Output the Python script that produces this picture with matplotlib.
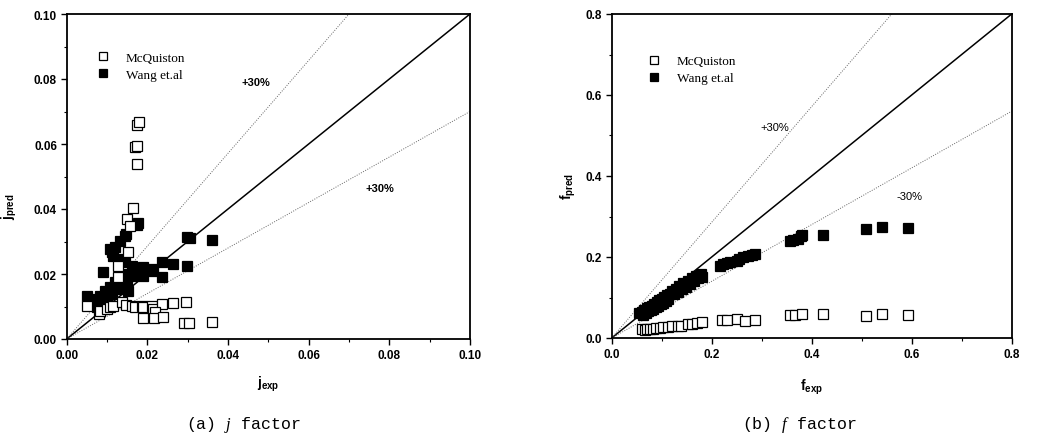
import matplotlib
matplotlib.use("Agg")
import matplotlib.pyplot as plt
import numpy as np
from matplotlib.ticker import MultipleLocator

plt.rcParams['mathtext.fontset'] = 'custom'
plt.rcParams['mathtext.it'] = 'Liberation Serif:italic'
plt.rcParams['mathtext.rm'] = 'Liberation Sans'
plt.rcParams['mathtext.bf'] = 'Liberation Sans:bold'

# ---------------- data: (a) j factor ----------------
j_mcq_exp = [0.0050, 0.0079, 0.0083, 0.0099, 0.0107, 0.0116, 0.0136, 0.0147, 0.0161, 0.0169,
             0.0186, 0.0190, 0.0211, 0.0215, 0.0236, 0.0263, 0.0295, 0.0190, 0.0219, 0.0217,
             0.0240, 0.0292, 0.0304, 0.0360, 0.0153, 0.0128, 0.0149, 0.0157, 0.0164, 0.0174,
             0.0169, 0.0174, 0.0175, 0.0180, 0.0128]
j_mcq_pred = [0.0102, 0.0077, 0.0087, 0.0092, 0.0097, 0.0103, 0.0113, 0.0105, 0.0102, 0.0100,
              0.0102, 0.0100, 0.0102, 0.0092, 0.0108, 0.0110, 0.0113, 0.0065, 0.0082, 0.0064,
              0.0067, 0.0049, 0.0049, 0.0051, 0.0267, 0.0226, 0.0369, 0.0349, 0.0402, 0.0538,
              0.0592, 0.0595, 0.0660, 0.0668, 0.0190]

j_wang_exp = [0.0050, 0.0091, 0.0066, 0.0074, 0.0083, 0.0091, 0.0074, 0.0083, 0.0099, 0.0095,
              0.0107, 0.0112, 0.0124, 0.0120, 0.0136, 0.0132, 0.0149, 0.0145, 0.0161, 0.0165,
              0.0153, 0.0174, 0.0190, 0.0190, 0.0215, 0.0211, 0.0237, 0.0237, 0.0263, 0.0298,
              0.0298, 0.0306, 0.0360, 0.0161, 0.0145, 0.0132, 0.0116, 0.0107, 0.0112, 0.0120,
              0.0132, 0.0145, 0.0147, 0.0174, 0.0178]
j_wang_pred = [0.0133, 0.0205, 0.0108, 0.0097, 0.0087, 0.0103, 0.0123, 0.0133, 0.0123, 0.0149,
               0.0159, 0.0138, 0.0154, 0.0174, 0.0164, 0.0185, 0.0179, 0.0200, 0.0195, 0.0207,
               0.0149, 0.0215, 0.0221, 0.0195, 0.0215, 0.0210, 0.0236, 0.0190, 0.0231, 0.0226,
               0.0313, 0.0310, 0.0306, 0.0226, 0.0236, 0.0246, 0.0256, 0.0277, 0.0267, 0.0282,
               0.0303, 0.0318, 0.0323, 0.0352, 0.0356]

# ---------------- data: (b) f factor ----------------
f_wang_exp = [0.055, 0.060, 0.062, 0.065, 0.068, 0.070, 0.073, 0.075, 0.078, 0.080,
              0.083, 0.085, 0.088, 0.090, 0.093, 0.095, 0.098, 0.100, 0.103, 0.105,
              0.108, 0.110, 0.113, 0.117, 0.120, 0.125, 0.128, 0.132, 0.135, 0.140,
              0.143, 0.148, 0.152, 0.157, 0.160, 0.165, 0.168, 0.173, 0.178, 0.180,
              0.217, 0.223, 0.230, 0.237, 0.250, 0.255, 0.263, 0.273, 0.280, 0.287,
              0.357, 0.363, 0.373, 0.378, 0.380, 0.422, 0.508, 0.540, 0.593]
f_wang_pred = [0.062, 0.065, 0.058, 0.070, 0.062, 0.073, 0.066, 0.077, 0.069, 0.080,
               0.072, 0.085, 0.076, 0.089, 0.079, 0.093, 0.084, 0.097, 0.087, 0.101,
               0.092, 0.106, 0.096, 0.109, 0.115, 0.109, 0.121, 0.114, 0.128, 0.121,
               0.135, 0.127, 0.141, 0.134, 0.148, 0.141, 0.153, 0.147, 0.157, 0.151,
               0.179, 0.183, 0.186, 0.187, 0.191, 0.195, 0.199, 0.203, 0.205, 0.207,
               0.240, 0.243, 0.244, 0.251, 0.255, 0.255, 0.269, 0.275, 0.271]

f_mcq_exp = [0.060, 0.066, 0.070, 0.076, 0.083, 0.089, 0.097, 0.102, 0.113, 0.121,
             0.133, 0.139, 0.153, 0.161, 0.170, 0.180, 0.220, 0.230, 0.251, 0.267,
             0.287, 0.357, 0.367, 0.381, 0.422, 0.508, 0.540, 0.593]
f_mcq_pred = [0.021, 0.020, 0.022, 0.022, 0.022, 0.024, 0.024, 0.027, 0.026, 0.029,
              0.030, 0.030, 0.035, 0.035, 0.037, 0.039, 0.044, 0.044, 0.047, 0.043,
              0.045, 0.057, 0.057, 0.059, 0.059, 0.055, 0.059, 0.057]

series_names = ["McQuiston", "Wang et.al"]

W, H = 1037, 439
fig = plt.figure(figsize=(W / 100, H / 100), dpi=100)

ax1 = fig.add_axes([66.7 / W, (H - 340) / H, 403.3 / W, 325 / H])
ax2 = fig.add_axes([611.7 / W, (H - 339) / H, 400 / W, 324 / H])

ms = 7.3
mew = 0.9


def style(ax, lim, major, minor, fmt):
    ax.set_xlim(0, lim)
    ax.set_ylim(0, lim)
    ax.xaxis.set_major_locator(MultipleLocator(major))
    ax.yaxis.set_major_locator(MultipleLocator(major))
    ax.xaxis.set_minor_locator(MultipleLocator(minor))
    ax.yaxis.set_minor_locator(MultipleLocator(minor))
    ax.xaxis.set_major_formatter(plt.FormatStrFormatter(fmt))
    ax.yaxis.set_major_formatter(plt.FormatStrFormatter(fmt))
    ax.tick_params(which='major', direction='out', length=4, width=1.0, pad=3,
                   labelsize=8.5)
    ax.tick_params(which='minor', direction='out', length=2, width=0.8)
    for lab in ax.get_xticklabels() + ax.get_yticklabels():
        lab.set_fontweight('bold')
        lab.set_family('Liberation Sans')
    for s in ax.spines.values():
        s.set_linewidth(1.3)


def draw(ax, lim, mcq_x, mcq_y, wang_x, wang_y):
    xx = np.array([0, lim])
    ax.plot(xx, xx, color='black', lw=1.1, zorder=1)
    ax.plot(xx, xx / 0.7, color='#666666', lw=0.7, ls=(0, (1, 1.5)), zorder=1)
    ax.plot(xx, xx * 0.7, color='#666666', lw=0.7, ls=(0, (1, 1.5)), zorder=1)
    ax.plot(wang_x, wang_y, ls='none', marker='s', ms=ms, mfc='black', mec='black',
            mew=mew, zorder=3, label=series_names[1])
    ax.plot(mcq_x, mcq_y, ls='none', marker='s', ms=ms, mfc='white', mec='black',
            mew=mew, zorder=4, label=series_names[0])


draw(ax1, 0.10, j_mcq_exp, j_mcq_pred, j_wang_exp, j_wang_pred)
draw(ax2, 0.8, f_mcq_exp, f_mcq_pred, f_wang_exp, f_wang_pred)
style(ax1, 0.10, 0.02, 0.01, '%.2f')
style(ax2, 0.8, 0.2, 0.1, '%.1f')

for ax, bb in ((ax1, (0.045, 0.92)), (ax2, (0.06, 0.91))):
    h, l = ax.get_legend_handles_labels()
    leg = ax.legend(h[::-1], l[::-1], loc='upper left', bbox_to_anchor=bb,
                    frameon=False, markerscale=0.7, handlelength=1.0,
                    handletextpad=1.2, labelspacing=0.35,
                    prop={'family': 'Liberation Serif', 'size': 9.5})

# annotations
ax1.text(0.047, 0.079, '+30%', fontsize=8, fontweight='bold', family='Liberation Sans',
         ha='center', va='center')
ax1.text(0.0777, 0.0465, '+30%', fontsize=8, fontweight='bold', family='Liberation Sans',
         ha='center', va='center')
ax2.text(0.326, 0.521, '+30%', fontsize=8, family='Liberation Sans',
         ha='center', va='center')
ax2.text(0.596, 0.351, '-30%', fontsize=8, family='Liberation Sans',
         ha='center', va='center')

# axis labels
ax1.set_ylabel(r'$\mathbf{j}_{\mathbf{pred}}$', fontsize=10)
ax1.yaxis.set_label_coords(-0.118, 0.41)
ax1.set_xlabel(r'$\mathbf{j}_{\mathbf{exp}}$', fontsize=10)
ax1.xaxis.set_label_coords(0.5, -0.108)
ax2.set_ylabel(r'$\mathbf{f}_{\mathbf{pred}}$', fontsize=10)
ax2.yaxis.set_label_coords(-0.085, 0.47)
ax2.set_xlabel(r'$\mathbf{f}_{\mathbf{exp}}$', fontsize=10)
ax2.xaxis.set_label_coords(0.5, -0.12)

# captions
fig.text(243 / W, 1 - 425 / H, r'(a) $j$ factor', family='Liberation Mono', fontsize=12,
         ha='center', va='center')
fig.text(799 / W, 1 - 425 / H, r'(b) $f$ factor', family='Liberation Mono', fontsize=12,
         ha='center', va='center')

fig.savefig('out.png', dpi=100)
